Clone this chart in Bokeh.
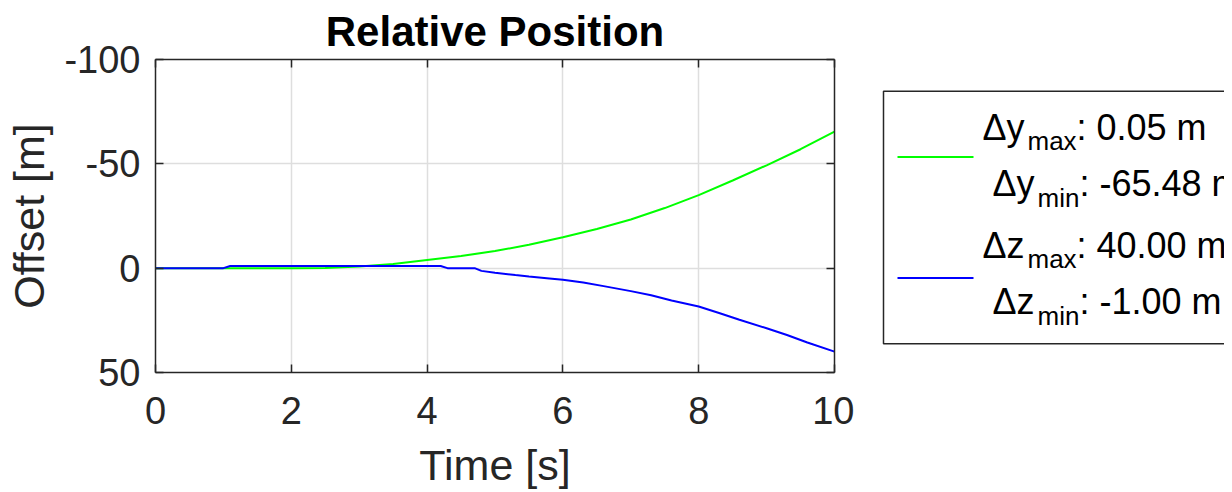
from bokeh.plotting import figure
from bokeh.models import Range1d, FixedTicker, LinearAxis
from bokeh.layouts import row
from bokeh.embed import file_html
from bokeh.resources import INLINE
from bokeh.core.properties import value

# ---- data ----
t_y = [0, 0.5, 1.0, 1.5, 2.0, 2.5, 3.0, 3.5, 4.0, 4.5, 5.0, 5.5, 6.0, 6.5,
       7.0, 7.5, 8.0, 8.5, 9.0, 9.5, 10.0]
dy = [0, 0, 0, 0, 0, -0.1, -0.8, -2.0, -3.9, -5.8, -8.2, -11.2, -14.8, -18.8,
      -23.3, -28.8, -35.0, -42.0, -49.3, -57.0, -65.48]

t_z = [0, 1.0, 1.1, 4.2, 4.3, 4.7, 4.8, 5.0, 5.3, 5.5, 5.8, 6.0, 6.3, 6.6,
       7.0, 7.3, 7.6, 8.0, 8.3, 8.6, 9.0, 9.3, 9.6, 10.0]
dz = [0, 0, -1, -1, 0, 0, 1.3, 2.2, 3.3, 4.0, 4.9, 5.6, 6.9, 8.6,
      11.0, 13.0, 15.5, 18.4, 21.5, 24.7, 28.8, 32.0, 35.6, 40.0]

x_ticks = [0, 2, 4, 6, 8, 10]
x_tick_labels = ["0", "2", "4", "6", "8", "10"]
y_ticks = [-100, -50, 0, 50]
y_tick_labels = ["-100", "-50", "0", "50"]

title_text = "Relative Position"
x_label = "Time [s]"
y_label = "Offset [m]"

legend_symbols = ["\u0394y", "\u0394y", "\u0394z", "\u0394z"]
legend_subs = ["max", "min", "max", "min"]
legend_values = [": 0.05 m", ": -65.48 m", ": 40.00 m", ": -1.00 m"]
series_colors = ["#00ff00", "#0000ff"]

FONT = "Liberation Sans"
DARK = "#262626"

# layout geometry (page pixels)
FL, FT, FW, FH = 155, 57, 679, 315
MB_BOTTOM = 120
MAIN_W = FL + FW + 20
LEG_W = 370
H = FT + FH + MB_BOTTOM

# ---- main plot ----
p = figure(width=MAIN_W, height=H, x_range=Range1d(0, 10), y_range=Range1d(50, -100),
           output_backend="svg", toolbar_location=None,
           min_border_left=FL, min_border_right=20, min_border_top=FT,
           min_border_bottom=MB_BOTTOM, title=title_text)
p.title.text_font = FONT
p.title.text_font_size = "42px"
p.title.text_font_style = "bold"
p.title.text_color = "black"
p.title.align = "center"
p.title.standoff = 10
p.outline_line_color = None
p.background_fill_color = "white"

top_ax = LinearAxis()
right_ax = LinearAxis()
p.add_layout(top_ax, "above")
p.add_layout(right_ax, "right")

for ax in p.xaxis:
    ax.ticker = FixedTicker(ticks=x_ticks)
    ax.major_label_overrides = {t: l for t, l in zip(x_ticks, x_tick_labels)}
for ax in p.yaxis:
    ax.ticker = FixedTicker(ticks=y_ticks)
    ax.major_label_overrides = {t: l for t, l in zip(y_ticks, y_tick_labels)}

for ax in p.axis:
    ax.axis_line_color = DARK
    ax.axis_line_width = 1.5
    ax.major_tick_line_color = DARK
    ax.major_tick_line_width = 1.5
    ax.major_tick_in = 8
    ax.major_tick_out = 0
    ax.minor_tick_line_color = None
    ax.major_label_text_font = FONT
    ax.major_label_text_font_size = "38px"
    ax.major_label_text_color = DARK
    ax.axis_label_text_font = FONT
    ax.axis_label_text_font_size = "43px"
    ax.axis_label_text_font_style = "normal"
    ax.axis_label_text_color = DARK

for ax in (top_ax, right_ax):
    ax.major_label_text_font_size = "1px"
    ax.major_label_text_color = None
    ax.major_label_standoff = 0

p.below[0].axis_label = x_label
p.left[0].axis_label = y_label
p.below[0].major_label_standoff = 24
p.left[0].major_label_standoff = 15
p.below[0].axis_label_standoff = 14
p.left[0].axis_label_standoff = 8

p.xgrid.grid_line_color = "#dedede"
p.ygrid.grid_line_color = "#dedede"
p.xgrid.grid_line_width = 1.5
p.ygrid.grid_line_width = 1.5

p.line(t_y, dy, line_color=series_colors[0], line_width=2)
p.line(t_z, dz, line_color=series_colors[1], line_width=2)

# ---- legend panel (its frame is aligned with the main frame; coords = page px) ----
x0 = MAIN_W
leg = figure(width=LEG_W, height=H, x_range=Range1d(x0, x0 + LEG_W),
             y_range=Range1d(FT + FH, FT),
             output_backend="svg", toolbar_location=None,
             min_border_left=0, min_border_right=0, min_border_top=FT,
             min_border_bottom=MB_BOTTOM,
             x_axis_location=None, y_axis_location=None)
leg.grid.visible = False
leg.outline_line_color = None

leg.quad(left=[883], right=[x0 + LEG_W + 40], top=[89], bottom=[343],
         fill_color=None, line_color=DARK, line_width=1.5)

line_y = [155, 277]
for c, yy in zip(series_colors, line_y):
    leg.line([897, 973], [yy, yy], line_color=c, line_width=2)

row_base = [125, 182, 244, 301]
row_x = [982, 992, 982, 992]
sub_w = {"max": 49, "min": 42}
for sym, sub, val, yb, xs in zip(legend_symbols, legend_subs, legend_values, row_base, row_x):
    leg.text(x=[xs], y=[yb], text=[sym], text_font=value(FONT), text_font_size="36px",
             text_color="black", text_baseline="alphabetic", text_align="left")
    leg.text(x=[xs + 45], y=[yb + 14], text=[sub], text_font=value(FONT), text_font_size="26px",
             text_color="black", text_baseline="alphabetic", text_align="left")
    leg.text(x=[xs + 45 + sub_w[sub]], y=[yb], text=[val], text_font=value(FONT),
             text_font_size="36px", text_color="black", text_baseline="alphabetic",
             text_align="left")

layout = row(p, leg)
open("out.html", "w").write(file_html(layout, INLINE))
